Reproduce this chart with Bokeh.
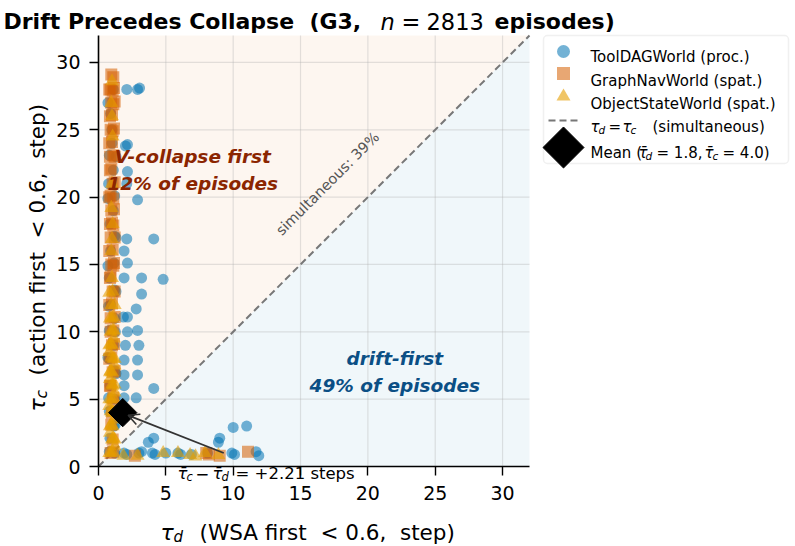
import numpy as np
from bokeh.plotting import figure
from bokeh.models import Range1d, FixedTicker, Label, Arrow, OpenHead, BoxAnnotation
from bokeh.embed import file_html
from bokeh.resources import INLINE

# ---------------------------------------------------------------- data
# onset step of WSA drift (tau_d) and of action collapse (tau_c) per episode
tool_x = [1.1, 0.9, 1.0, 1.0, 0.8, 1.1, 0.75, 1.2, 1.1, 0.85, 1.2, 0.9, 1.15, 0.8,
          1.2, 0.9, 1.2, 0.8, 1.15, 0.8, 1.2, 0.85, 1.2, 0.8, 1.15, 0.85, 1.2, 0.8,
          0.7, 1.3, 0.7, 1.3, 0.7, 1.3, 0.75, 1.25, 0.7, 1.3, 0.75, 1.25,
          2.1, 2.9, 3.05, 2.0, 2.15, 2.15, 2.1, 2.9,
          2.1, 4.1, 1.9, 2.15, 1.9, 3.2, 4.8, 3.2, 2.8, 1.85, 2.15, 2.15, 2.9, 2.0,
          3.0, 1.9, 2.9, 1.9, 2.9, 1.9, 4.1, 1.9, 2.8,
          3.7, 4.1, 8.9, 9.0, 10.0, 11.0,
          1.9, 2.1, 3.0, 3.2, 4.0, 4.2, 5.0, 5.9, 6.1, 6.9, 8.1, 9.9, 10.1, 11.9, 11.7]
tool_y = [28.0, 26.2, 25.0, 24.0, 23.1, 22.0, 21.0, 20.1, 19.0, 18.0, 17.1, 16.0, 15.1, 14.0,
          13.1, 12.0, 11.0, 10.1, 9.0, 8.0, 7.1, 6.0, 5.0, 4.1, 3.0, 2.1, 1.0, 1.1,
          27.0, 23.0, 19.9, 17.0, 14.9, 13.0, 11.9, 10.0, 8.1, 6.9, 5.1, 3.1,
          28.0, 28.0, 28.1, 23.8, 23.9, 21.9, 21.0, 19.8,
          16.9, 16.9, 16.0, 15.1, 14.0, 14.0, 13.9, 12.8, 11.7, 11.1, 11.1, 10.0, 10.1, 9.0,
          9.0, 7.9, 7.9, 6.8, 6.8, 6.0, 5.8, 5.1, 5.1,
          1.8, 2.1, 1.8, 2.1, 2.9, 3.0,
          1.0, 0.9, 1.0, 1.1, 1.0, 0.9, 1.0, 1.0, 0.9, 0.9, 1.0, 1.0, 0.9, 0.8, 1.1]

graph_x = [0.95, 1.1, 0.9, 1.05, 1.15, 0.95, 1.1, 1.0, 0.9, 1.05, 1.0, 0.85, 1.1,
           0.95, 1.05, 0.9, 1.1, 0.95, 1.0, 1.1, 0.9, 1.05, 0.95, 1.1, 0.9, 1.05,
           1.0, 0.9, 1.1, 1.0, 0.95, 1.05, 0.9, 1.1, 1.0, 0.95, 1.05, 0.9, 1.1,
           0.8, 1.2, 0.85, 1.15, 0.8, 1.2, 0.85, 1.2, 0.8, 1.15, 0.85, 1.2,
           0.8, 1.15, 0.85, 1.2, 0.8, 1.2, 0.9, 1.15, 0.8, 1.2, 0.85, 1.1,
           2.7, 8.0, 8.2, 9.0, 11.1]
graph_y = [29.1, 28.9, 28.0, 27.9, 28.1, 27.0, 26.9, 26.1, 25.0, 24.9, 24.1, 23.0, 23.1,
           22.1, 21.0, 20.1, 19.9, 19.0, 18.1, 17.9, 17.0, 16.1, 15.0, 14.9, 14.1, 13.0,
           12.1, 11.0, 10.1, 9.0, 8.1, 7.0, 6.0, 5.1, 4.0, 3.1, 2.0, 1.0, 1.1,
           28.0, 27.1, 26.0, 25.1, 24.0, 23.0, 22.0, 21.1, 20.0, 19.1, 18.0, 17.0,
           16.0, 15.1, 14.0, 13.0, 12.0, 11.1, 10.0, 9.1, 8.0, 7.1, 6.0, 4.9,
           0.8, 1.0, 0.9, 0.8, 1.1]

obj_x = [1.0, 0.95, 1.0, 1.05, 1.0, 0.95, 1.05, 1.0, 0.95, 1.0, 1.05, 0.95, 1.0, 1.1,
         0.9, 1.05, 1.0, 0.9, 1.1, 0.95, 1.0, 0.9, 1.05, 1.0, 0.95, 1.1, 1.0, 0.9,
         1.05, 0.95, 1.0, 1.1, 0.95, 1.05,
         0.8, 1.2, 0.85, 1.15, 0.8, 1.2, 0.85, 1.2, 0.8, 1.15, 0.85, 1.2, 0.8, 1.2,
         0.85, 1.15, 0.8, 1.2, 0.85, 1.2, 0.8, 1.15,
         1.85, 2.9, 4.8, 5.9, 6.8, 7.2, 7.9, 8.9]
obj_y = [28.6, 27.0, 26.0, 24.5, 21.0, 19.2, 18.0, 16.9, 16.0, 14.0, 13.0, 12.0, 11.0, 11.1,
         10.0, 10.1, 9.0, 9.1, 8.0, 8.1, 7.0, 7.1, 6.0, 6.1, 5.0, 5.1, 4.0, 4.1,
         3.0, 3.1, 2.0, 2.1, 1.0, 1.1,
         12.9, 12.0, 11.0, 10.1, 9.0, 8.0, 7.0, 6.1, 5.0, 4.0, 3.0, 2.0, 1.0, 1.5,
         2.5, 3.5, 4.5, 5.5, 6.5, 7.5, 8.5, 9.5,
         0.8, 0.8, 1.0, 1.0, 0.85, 0.75, 1.0, 0.85]

series_names = ["ToolDAGWorld (proc.)", "GraphNavWorld (spat.)", "ObjectStateWorld (spat.)"]
mean_d, mean_c = 1.8, 4.0
mean_gap = 2.21
n_episodes = 2813
pct_collapse, pct_drift, pct_simult = 12, 49, 39
ticks = [0, 5, 10, 15, 20, 25, 30]
AX_MAX = 32

# ---------------------------------------------------------------- layout
# The frame covers the whole canvas; the axes sit at fixed data locations so
# that titles and the key can be placed freely around the data square.
W, H = 795, 546
LEFT, TOP, BOTTOM = 98, 35, 80
SQUARE = H - TOP - BOTTOM
SCALE = SQUARE / AX_MAX            # pixels per step, same on both axes
SP = "\u00a0"                      # space that svg text keeps


def X(px):
    return (px - LEFT) / SCALE


def Y(py):
    return (TOP + SQUARE - py) / SCALE


FONT = "DejaVu Sans"
BLUE, VERM, ORANGE = "#0072B2", "#D55E00", "#E69F00"

p = figure(width=W, height=H, x_range=Range1d(X(0), X(W)), y_range=Range1d(Y(H), Y(0)),
           output_backend="svg", toolbar_location=None,
           min_border_left=0, min_border_right=0, min_border_top=0, min_border_bottom=0)
p.title.visible = False
p.outline_line_color = None
p.background_fill_color = "white"
p.border_fill_color = "white"
p.xgrid.visible = False
p.ygrid.visible = False

for ax in (p.xaxis[0], p.yaxis[0]):
    ax.fixed_location = 0
    ax.bounds = (0, AX_MAX)
    ax.ticker = FixedTicker(ticks=ticks)
    ax.minor_tick_line_color = None
    ax.major_tick_out = 9
    ax.major_tick_in = 0
    ax.axis_line_width = 1.6
    ax.axis_line_color = "black"
    ax.major_tick_line_width = 1.4
    ax.major_tick_line_color = "black"
    ax.major_label_text_font = FONT
    ax.major_label_text_font_size = "19px"
    ax.major_label_text_color = "black"
p.xaxis.major_label_standoff = 10
p.yaxis.major_label_standoff = 9

# shaded halves either side of the diagonal
p.patch([0, 0, AX_MAX], [0, AX_MAX, AX_MAX], fill_color=VERM, fill_alpha=0.06, line_color=None)
p.patch([0, AX_MAX, AX_MAX], [0, 0, AX_MAX], fill_color=BLUE, fill_alpha=0.06, line_color=None)

# grid restricted to the data square
g = [t for t in ticks if t > 0]
p.segment(x0=g, y0=[0] * len(g), x1=g, y1=[AX_MAX] * len(g), line_color="#b0b0b0",
          line_alpha=0.35, line_width=1.2)
p.segment(x0=[0] * len(g), y0=g, x1=[AX_MAX] * len(g), y1=g, line_color="#b0b0b0",
          line_alpha=0.35, line_width=1.2)

# tau_d = tau_c
p.line([0, AX_MAX], [0, AX_MAX], line_color="#777777", line_width=2, line_dash="7 4")

# episodes
p.scatter(tool_x, tool_y, marker="circle", size=11, fill_color=BLUE, fill_alpha=0.55, line_color=None)
p.scatter(graph_x, graph_y, marker="square", size=12, fill_color=VERM, fill_alpha=0.55, line_color=None)
p.scatter(obj_x, obj_y, marker="triangle", size=14, fill_color=ORANGE, fill_alpha=0.6, line_color=None)

# mean onset
p.scatter([mean_d], [mean_c], marker="square", angle=np.pi / 4, size=20,
          fill_color="black", line_color="black", line_width=1)
tail = (9.3, 1.0)
head = (mean_d + 0.4, mean_c - 0.2)
p.add_layout(Arrow(end=OpenHead(size=11, line_color="#333333", line_width=1.6),
                   x_start=tail[0], y_start=tail[1], x_end=head[0], y_end=head[1],
                   line_color="#333333", line_width=1.8))


def put(text, px, py, size, style="normal", color="black", angle=0.0,
        align="left", baseline="alphabetic"):
    p.add_layout(Label(x=X(px), y=Y(py), text=text, text_font=FONT,
                       text_font_size=f"{size}px", text_font_style=style,
                       text_color=color, angle=angle, text_align=align,
                       text_baseline=baseline))


# region captions
p.add_layout(Label(x=7.0, y=22.0, text=f"V-collapse first\n{pct_collapse}% of episodes",
                   text_font=FONT, text_font_size="18.5px", text_font_style="bold italic",
                   text_color="#8B2500", text_align="center", text_baseline="middle",
                   text_line_height=1.3))
p.add_layout(Label(x=22.0, y=7.0, text=f"drift-first\n{pct_drift}% of episodes",
                   text_font=FONT, text_font_size="18.5px", text_font_style="bold italic",
                   text_color="#0B4F85", text_align="center", text_baseline="middle",
                   text_line_height=1.3))
p.add_layout(Label(x=17.0, y=21.0, text=f"simultaneous: {pct_simult}%", angle=np.pi / 4,
                   text_font=FONT, text_font_size="14.5px", text_color="#555555",
                   text_align="center", text_baseline="middle"))

# gap between mean onsets
TB = "\u03c4\u0304"
put(TB, 177, 473, 16.5, "italic")
put("c", 186, 476.5, 11.5, "italic")
put("\u2212", 195, 473, 16.5)
put(TB, 212, 473, 16.5, "italic")
put("d", 221, 476.5, 11.5, "italic")
put(f"= +{mean_gap:.2f} steps", 235, 473, 16.5)

# axis titles
put("\u03c4", 160, 532, 22, "italic")
put("d", 173, 536, 15, "italic")
put(f"(WSA first{SP}{SP}<{SP}0.6,{SP}{SP}step)", 199, 532, 21.5)
put("\u03c4", 37, 411, 22, "italic", angle=np.pi / 2)
put("c", 41.5, 398, 15.5, "italic", angle=np.pi / 2)
put(f"(action first{SP}{SP}<{SP}0.6,{SP}{SP}step)", 37, 375, 21.5, angle=np.pi / 2)

# figure title
put(f"Drift Precedes Collapse{SP}{SP}(G3,", 3, 21, 22, "bold")
put("n", 380, 21, 22.5, "italic")
put("=", 401, 21, 22.5)
put(f"{n_episodes}", 426, 21, 22.5)
put("episodes)", 494, 21, 22, "bold")

# key
p.add_layout(BoxAnnotation(left=X(543), right=X(788), top=Y(35), bottom=Y(163),
                           fill_color="white", fill_alpha=0.85, line_color="#cccccc",
                           line_width=1.5, border_radius=4, level="underlay"))
p.scatter([X(563)], [Y(51)], marker="circle", size=13, fill_color=BLUE, fill_alpha=0.55, line_color=None)
p.scatter([X(563)], [Y(73)], marker="square", size=13, fill_color=VERM, fill_alpha=0.55, line_color=None)
p.scatter([X(563)], [Y(96)], marker="triangle", size=14, fill_color=ORANGE, fill_alpha=0.6, line_color=None)
p.line([X(548), X(579)], [Y(120), Y(120)], line_color="#777777", line_width=2, line_dash="7 4")
p.scatter([X(563)], [Y(147)], marker="square", angle=np.pi / 4, size=29,
          fill_color="black", line_color="black")

put(series_names[0], 590, 56, 15)
put(series_names[1], 590, 80, 15)
put(series_names[2], 590, 103, 15)
put("\u03c4", 590, 126, 15, "italic")
put("d", 598, 129, 10.5, "italic")
put("=", 608, 126, 15)
put("\u03c4", 622, 126, 15, "italic")
put("c", 630, 129, 10.5, "italic")
put("(simultaneous)", 652, 126, 15)
put("Mean (", 590, 152, 15)
put(TB, 638, 152, 15, "italic")
put("d", 645, 155, 10.5, "italic")
put(f"= {mean_d:.1f},", 656, 152, 15)
put(TB, 704, 152, 15, "italic")
put("c", 712, 155, 10.5, "italic")
put(f"= {mean_c:.1f})", 722, 152, 15)

open("out.html", "w").write(file_html(p, INLINE))
